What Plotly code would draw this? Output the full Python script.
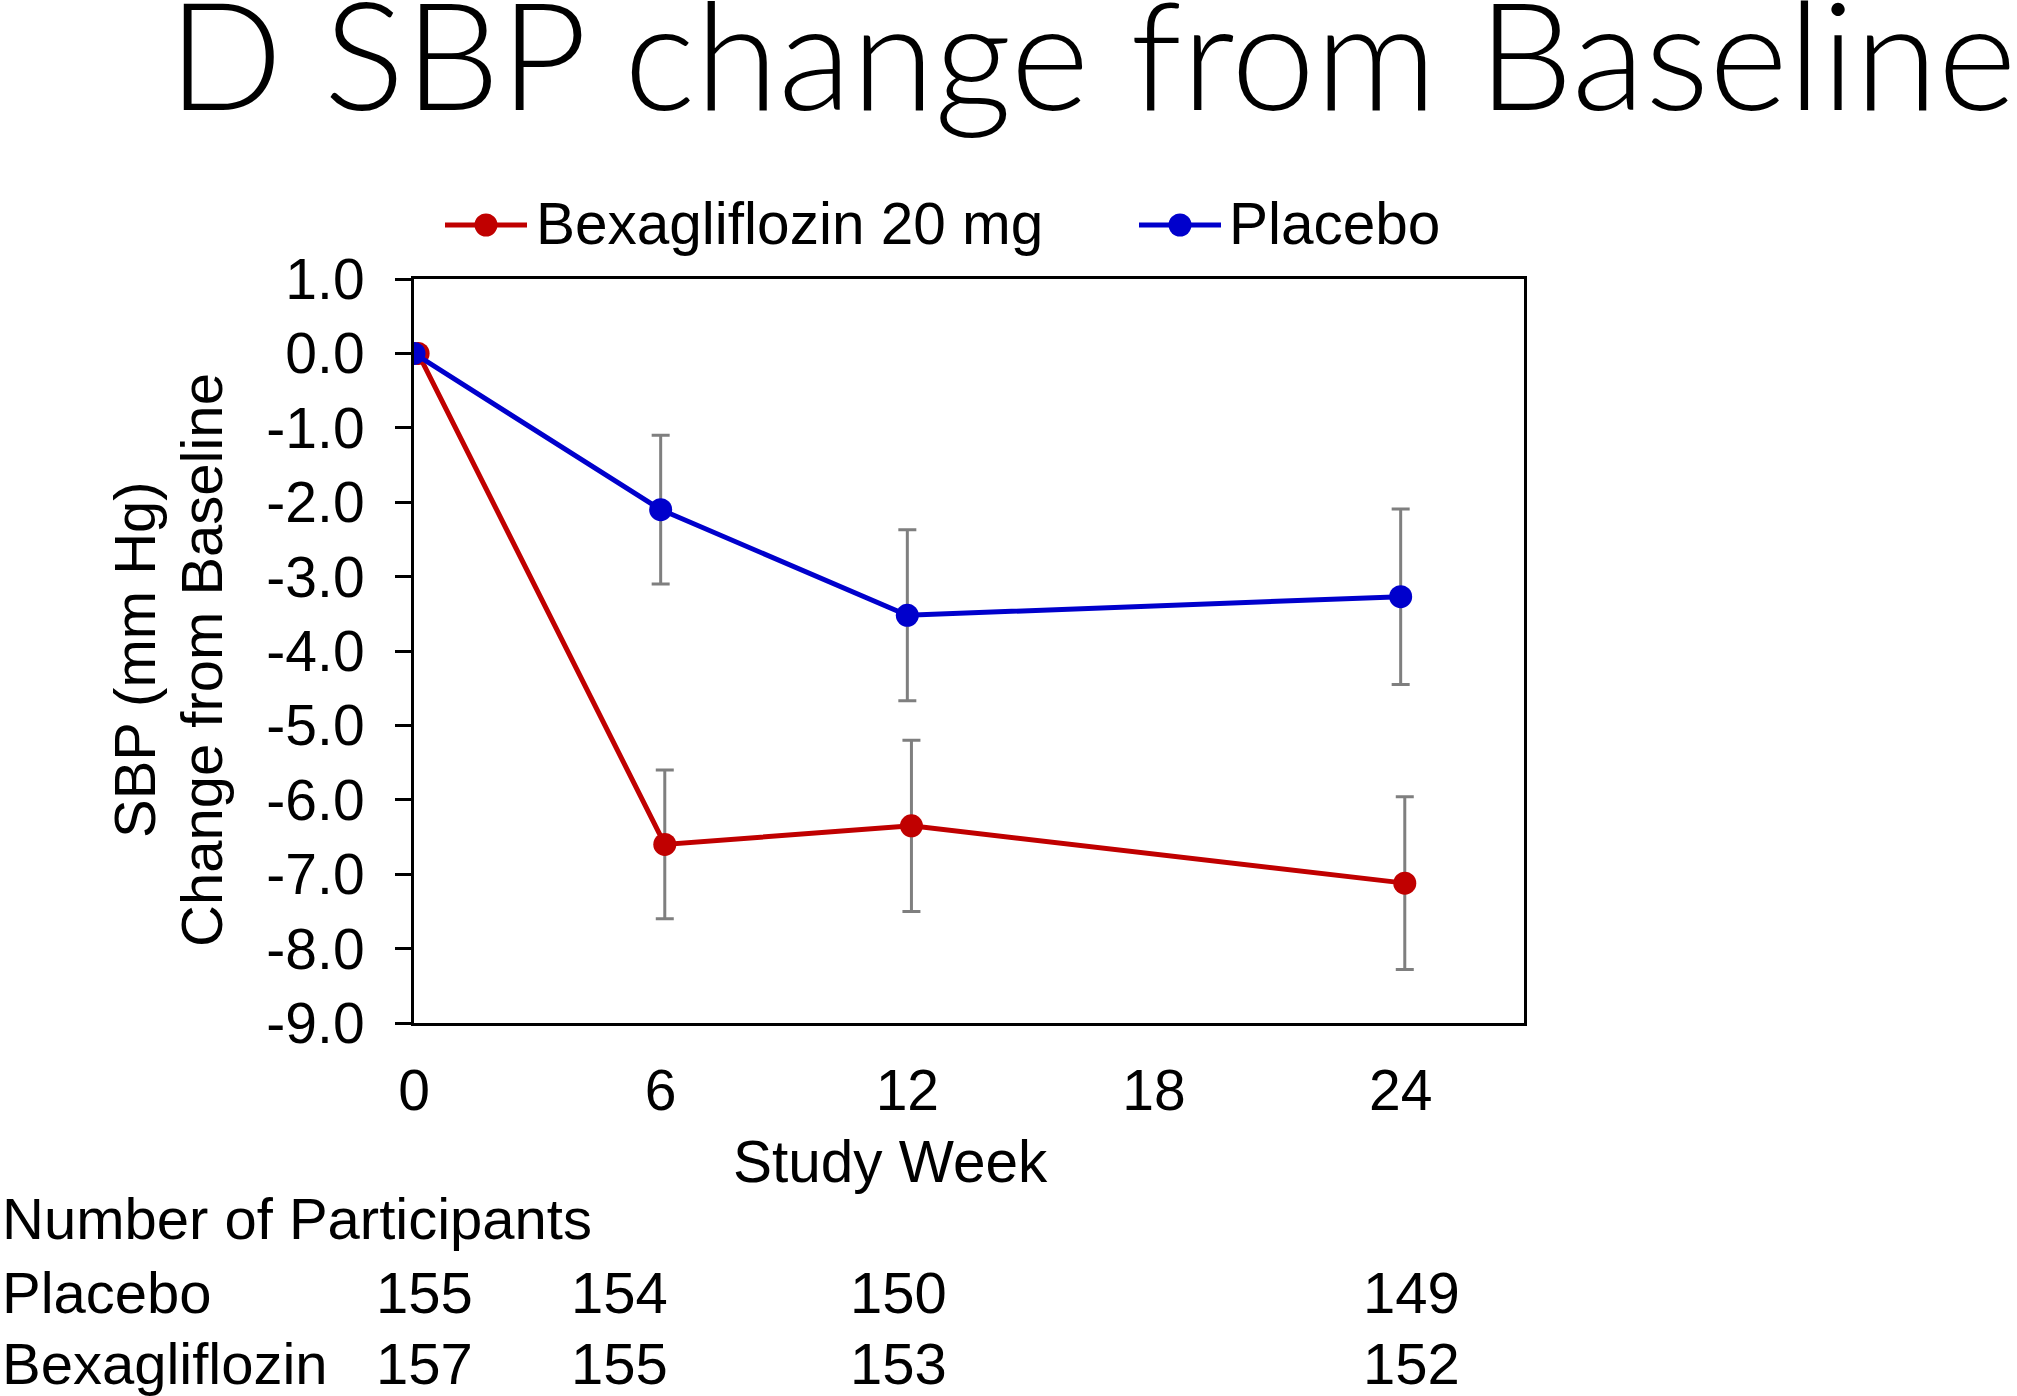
import plotly.graph_objects as go

# ---------------- data ----------------
WEEKS_PLACEBO = [0, 6, 12, 24]
WEEKS_BEXA = [0.1, 6.1, 12.1, 24.1]          # slightly offset in the original
SBP_PLACEBO = [0.0, -2.10, -3.52, -3.27]
ERR_PLACEBO = [0.0, 1.00, 1.15, 1.18]
SBP_BEXA = [0.0, -6.60, -6.35, -7.12]
ERR_BEXA = [0.0, 1.00, 1.15, 1.16]

Y_TICK_VALUES = [1, 0, -1, -2, -3, -4, -5, -6, -7, -8, -9]
Y_TICK_LABELS = ["1.0", "0.0", "-1.0", "-2.0", "-3.0", "-4.0", "-5.0", "-6.0", "-7.0", "-8.0", "-9.0"]
X_TICK_VALUES = [0, 6, 12, 18, 24]
X_TICK_LABELS = ["0", "6", "12", "18", "24"]

N_PLACEBO = [155, 154, 150, 149]
N_BEXA = [157, 155, 153, 152]

# ---------------- layout constants ----------------
W, H = 2017, 1396
L, R, T, B = 414, 1524, 279, 1023   # plot area in pixels
RED = "#C00000"
BLUE = "#0000CC"
GREY = "#7F7F7F"
FONT = "Liberation Sans, Arial, sans-serif"
FS = 58


def px(x):
    return (x - L) / (R - L)


def py(y):
    return (B - y) / (B - T)


fig = go.Figure()

fig.add_trace(go.Scatter(
    x=WEEKS_BEXA, y=SBP_BEXA, mode="lines+markers", name="Bexagliflozin 20 mg",
    line=dict(color=RED, width=5), marker=dict(color=RED, size=23),
    error_y=dict(type="data", array=ERR_BEXA, color=GREY, thickness=3, width=9),
    showlegend=False,
))
fig.add_trace(go.Scatter(
    x=WEEKS_PLACEBO, y=SBP_PLACEBO, mode="lines+markers", name="Placebo",
    line=dict(color=BLUE, width=5), marker=dict(color=BLUE, size=23),
    error_y=dict(type="data", array=ERR_PLACEBO, color=GREY, thickness=3, width=9),
    showlegend=False,
))

annotations = []
shapes = []

# title
annotations.append(dict(text="D SBP change from Baseline", x=px(1092), y=py(52),
                        xref="paper", yref="paper", xanchor="center", yanchor="middle",
                        showarrow=False,
                        font=dict(family="Lato, sans-serif", size=151, weight=300, color="black")))

# manual legend
legend_items = [("Bexagliflozin 20 mg", RED, 445, 527, 534), ("Placebo", BLUE, 1139, 1221, 1227)]
for label, col, x0, x1, xt in legend_items:
    shapes.append(dict(type="line", xref="paper", yref="paper", x0=px(x0), x1=px(x1),
                       y0=py(225), y1=py(225), line=dict(color=col, width=5)))
    cx = (x0 + x1) / 2
    shapes.append(dict(type="circle", xref="paper", yref="paper", x0=px(cx - 11.5), x1=px(cx + 11.5),
                       y0=py(236.5), y1=py(213.5), fillcolor=col, line=dict(color=col, width=0)))
    annotations.append(dict(text=label, x=px(xt), y=py(223), xref="paper", yref="paper",
                            xanchor="left", yanchor="middle", showarrow=False,
                            font=dict(family=FONT, size=FS + 0.5, color="black")))

# y-axis title (two lines)
annotations.append(dict(text="SBP (mm Hg)", x=px(134), y=py(660), xref="paper", yref="paper",
                        xanchor="center", yanchor="middle", textangle=-90, showarrow=False,
                        font=dict(family=FONT, size=FS, color="black")))
annotations.append(dict(text="Change from Baseline", x=px(201), y=py(660), xref="paper", yref="paper",
                        xanchor="center", yanchor="middle", textangle=-90, showarrow=False,
                        font=dict(family=FONT, size=FS, color="black")))

# x-axis title
annotations.append(dict(text="Study Week", x=px(890), y=py(1161), xref="paper", yref="paper",
                        xanchor="center", yanchor="middle", showarrow=False,
                        font=dict(family=FONT, size=FS + 0.5, color="black")))

# participants table
COL_X = [424, 619, 898, 1411]
annotations.append(dict(text="Number of Participants", x=px(0), y=py(1218), xref="paper", yref="paper",
                        xanchor="left", yanchor="middle", showarrow=False,
                        font=dict(family=FONT, size=FS, color="black")))
for row_label, counts, yy in [("Placebo", N_PLACEBO, 1292), ("Bexagliflozin", N_BEXA, 1363)]:
    annotations.append(dict(text=row_label, x=px(0), y=py(yy), xref="paper", yref="paper",
                            xanchor="left", yanchor="middle", showarrow=False,
                            font=dict(family=FONT, size=FS, color="black")))
    for n, cx in zip(counts, COL_X):
        annotations.append(dict(text=str(n), x=px(cx), y=py(yy), xref="paper", yref="paper",
                                xanchor="center", yanchor="middle", showarrow=False,
                                font=dict(family=FONT, size=FS, color="black")))

fig.update_layout(
    width=W, height=H, autosize=False,
    margin=dict(l=L, r=W - R, t=T, b=H - B, pad=0),
    paper_bgcolor="white", plot_bgcolor="white",
    annotations=annotations, shapes=shapes,
    showlegend=False,
    xaxis=dict(range=[0, 27], tickvals=X_TICK_VALUES, ticktext=X_TICK_LABELS,
               showgrid=False, zeroline=False, showline=True, linecolor="black", linewidth=3,
               mirror=True, ticks="", ticklabelstandoff=16,
               tickfont=dict(family=FONT, size=FS - 1, color="black")),
    yaxis=dict(range=[-9, 1], tickvals=Y_TICK_VALUES, ticktext=Y_TICK_LABELS,
               showgrid=False, zeroline=False, showline=True, linecolor="black", linewidth=3,
               mirror=True, ticks="outside", ticklen=16, tickwidth=3, tickcolor="black",
               ticklabelstandoff=19,
               tickfont=dict(family=FONT, size=FS - 1, color="black")),
)

fig.write_html(
    "out.html",
    config={"displayModeBar": False},
    post_script="document.body.style.margin='0';document.body.style.padding='0';",
)
